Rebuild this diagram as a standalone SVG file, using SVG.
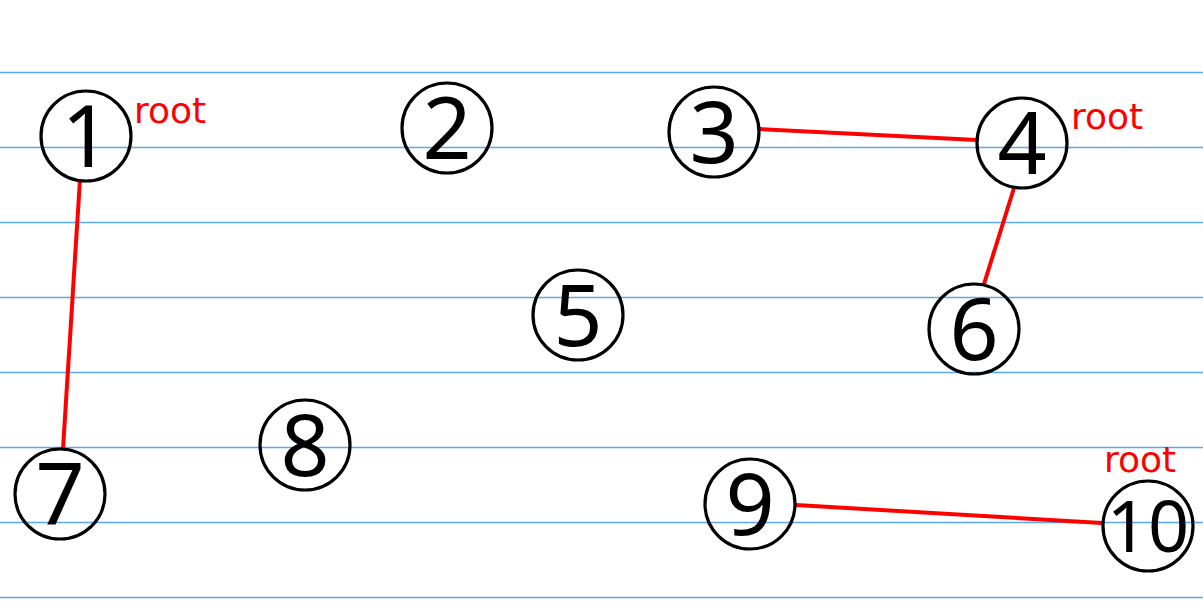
<svg xmlns="http://www.w3.org/2000/svg" width="1203" height="604" viewBox="0 0 1203 604">
<style>
.grid line{stroke:#5aa8f0;stroke-width:1.6}
.node circle{fill:none;stroke:#000;stroke-width:3.2}
.node text{font-family:"Noto Sans","Open Sans",sans-serif;font-size:86px;fill:#000;text-anchor:middle}
.node text.small{font-size:72px}
.root{font-family:"DejaVu Sans",sans-serif;font-size:36px;fill:#ff0000}
.edges line{stroke:#ff0000;stroke-width:4;stroke-linecap:butt}
</style>
<rect width="1203" height="604" fill="#fff"/>
<g class="grid">
<line x1="0" y1="72.5" x2="1203" y2="72.5"/>
<line x1="0" y1="147.5" x2="1203" y2="147.5"/>
<line x1="0" y1="222.5" x2="1203" y2="222.5"/>
<line x1="0" y1="297.5" x2="1203" y2="297.5"/>
<line x1="0" y1="372.5" x2="1203" y2="372.5"/>
<line x1="0" y1="447.5" x2="1203" y2="447.5"/>
<line x1="0" y1="522.5" x2="1203" y2="522.5"/>
<line x1="0" y1="597.5" x2="1203" y2="597.5"/>
</g>
<g class="edges">
<line x1="80" y1="179" x2="63" y2="449"/>
<line x1="759" y1="129" x2="977" y2="140"/>
<line x1="1014" y1="188" x2="984" y2="284"/>
<line x1="796" y1="505" x2="1102" y2="523"/>
</g>
<g id="n1" class="node"><circle cx="86" cy="136" r="45"/><text x="86" y="167">1</text></g>
<g id="n2" class="node"><circle cx="447" cy="128" r="45"/><text x="447" y="159">2</text></g>
<g id="n3" class="node"><circle cx="714" cy="132" r="45"/><text x="714" y="163">3</text></g>
<g id="n4" class="node"><circle cx="1022" cy="143" r="45"/><text x="1022" y="174">4</text></g>
<g id="n5" class="node"><circle cx="578" cy="315" r="45"/><text x="578" y="346">5</text></g>
<g id="n6" class="node"><circle cx="974" cy="329" r="45"/><text x="974" y="360">6</text></g>
<g id="n7" class="node"><circle cx="60" cy="494" r="45"/><text x="60" y="525">7</text></g>
<g id="n8" class="node"><circle cx="305" cy="445" r="45"/><text x="305" y="476">8</text></g>
<g id="n9" class="node"><circle cx="750" cy="504" r="45"/><text x="750" y="535">9</text></g>
<g id="n10" class="node"><circle cx="1148" cy="526" r="45"/><text class="small" x="1148" y="552">10</text></g>
<text class="root" x="134" y="123">root</text>
<text class="root" x="1071" y="129">root</text>
<text class="root" x="1104" y="472">root</text>
</svg>
